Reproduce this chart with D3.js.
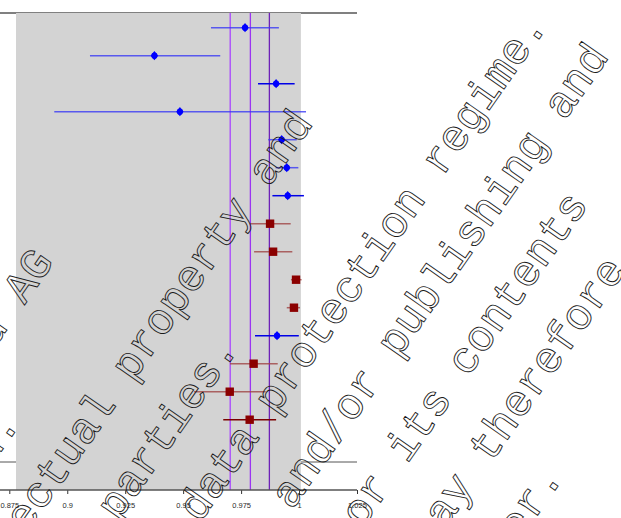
<!DOCTYPE html>
<html><head><meta charset="utf-8">
<script src="https://cdn.jsdelivr.net/npm/d3@7"></script>
<style>html,body{margin:0;padding:0;background:#fff;overflow:hidden}</style>
</head><body><svg id="c" width="621" height="518"></svg>
<script>
// ---- data ----
const rows     = [1, 2, 3, 4, 5, 6, 7, 8, 9, 10, 11, 12, 13, 14, 15];
const group    = ["blue","blue","blue","blue","blue","blue","blue","red","red","red","red","blue","red","red","red"];
const estimate = [0.9767, 0.9376, 0.9901, 0.9486, 0.9925, 0.9947, 0.9951, 0.9875, 0.9888, 0.9987, 0.9978, 0.9905, 0.9804, 0.9701, 0.9787];
const lower    = [0.9620, 0.9098, 0.9823, 0.8944, 0.9867, 0.9899, 0.9885, 0.9788, 0.9806, 0.9965, 0.9947, 0.9810, 0.9702, 0.9547, 0.9673];
const upper    = [0.9913, 0.9660, 0.9981, 1.0030, 0.9990, 0.9997, 1.0021, 0.9964, 0.9971, 1.0011, 1.0004, 0.9999, 0.9908, 0.9856, 0.9901];
const solidRows = [3, 7, 12, 15];
const refValues = [0.9703, 0.9790, 0.9872];
const tickValues = [0.875, 0.9, 0.925, 0.95, 0.975, 1, 1.025];
const tickLabels = ["0.875", "0.9", "0.925", "0.95", "0.975", "1", "1.025"];
const panelExtent = [0.8779, 1.0008];
const watermarkPrefix = ["Springer Nature Switzerland ", "All rights ", "This content is subject to ", "Please respect the rights of third ", "Personal data is handled under the applicable ", "Any unauthorized reproduction ", "distribution of this document ", "Infringements ", "be prosecuted by the publish"];
const watermarkText   = ["AG", "reserved.", "intellectual property and", "parties.", "data protection regime.", "and/or publishing and", "or its contents", "may therefore", "er."];

// ---- layout ----
const svg = d3.select("#c");
const x = d3.scaleLinear().domain([0.875, 1.025]).range([9.3, 357]);
const y = d3.scaleLinear().domain([1, 15]).range([27.7, 419.7]);
const axisY = 490, lineLeft = 0, lineRight = 357;

// frame lines (behind panel)
svg.append("line").attr("x1", lineLeft).attr("x2", lineRight).attr("y1", 13).attr("y2", 13)
  .attr("stroke", "#808080").attr("stroke-width", 2);
svg.append("line").attr("x1", lineLeft).attr("x2", lineRight).attr("y1", 462).attr("y2", 462)
  .attr("stroke", "#555").attr("stroke-width", 1);

// panel
svg.append("rect").attr("x", x(panelExtent[0])).attr("y", 13)
  .attr("width", x(panelExtent[1]) - x(panelExtent[0])).attr("height", axisY - 13)
  .attr("fill", "#d3d3d3");

// reference lines
const refColors = ["#a845ff", "#9b35f2", "#6e22b8"];
svg.selectAll(".ref").data(refValues).join("line")
  .attr("x1", d => x(d)).attr("x2", d => x(d)).attr("y1", 13).attr("y2", axisY)
  .attr("stroke", (d, i) => refColors[i]).attr("stroke-width", 1.3);

// data
const data = rows.map((r, i) => ({r, g: group[i], est: estimate[i], lo: lower[i], hi: upper[i], solid: solidRows.includes(r)}));
svg.selectAll(".ci").data(data).join("line")
  .attr("x1", d => x(d.lo)).attr("x2", d => x(d.hi))
  .attr("y1", d => y(d.r)).attr("y2", d => y(d.r))
  .attr("stroke", d => d.g === "blue" ? (d.solid ? "#0000e6" : "#3a3af5") : (d.solid ? "#7a0000" : "#a04545"))
  .attr("stroke-opacity", d => d.solid ? 1 : 0.8)
  .attr("stroke-width", 1.5);

const blue = data.filter(d => d.g === "blue");
const red = data.filter(d => d.g === "red");
const bg = svg.selectAll(".bm").data(blue).join("g")
  .attr("transform", d => `translate(${x(d.est)},${y(d.r)})`);
bg.append("path").attr("d", "M0,-4.6L3.6,0L0,4.6L-3.6,0Z").attr("fill", "#0000ff");
bg.append("circle").attr("r", 3.1).attr("fill", "#0000ff");
svg.selectAll(".rm").data(red).join("rect")
  .attr("x", d => x(d.est) - 4.2).attr("y", d => y(d.r) - 4.2)
  .attr("width", 8.4).attr("height", 8.4).attr("fill", "#8b0000");

// axis
const ax = svg.append("g").attr("transform", `translate(0,${axisY})`)
  .call(d3.axisBottom(x).tickValues(tickValues).tickFormat((d, i) => tickLabels[i]).tickSize(4).tickSizeOuter(0));
ax.select(".domain").remove();
ax.selectAll(".tick line").attr("stroke", "#333");
ax.selectAll(".tick text").attr("y", 13).attr("fill", "#2a2a2a")
  .style("font-family", "'Liberation Sans', Arial, sans-serif").style("font-size", "7.5px");
svg.append("line").attr("x1", lineLeft).attr("x2", lineRight).attr("y1", axisY).attr("y2", axisY)
  .attr("stroke", "#555").attr("stroke-width", 1.6);

// watermark (rotated outlined monospace text)
const fs = 44, adv = fs * 0.6;
const fragStart = [-236.1, -572.8, -581, -360, -314.5, -251, -226, -205, -146.7];
const baseV = [195, 260, 328, 396, 464, 532, 600, 668, 736];
const wm = svg.append("g").attr("transform", "rotate(-55)");
wm.selectAll("text").data(watermarkText).join("text")
  .attr("x", (d, i) => fragStart[i] - watermarkPrefix[i].length * adv)
  .attr("y", (d, i) => baseV[i])
  .attr("xml:space", "preserve")
  .style("white-space", "pre")
  .style("font-family", "'Liberation Mono', 'DejaVu Sans Mono', monospace")
  .style("font-size", fs + "px")
  .attr("fill", "none").attr("stroke", "#1a1a1a").attr("stroke-width", 0.9)
  .text((d, i) => watermarkPrefix[i] + d);
</script></body></html>
